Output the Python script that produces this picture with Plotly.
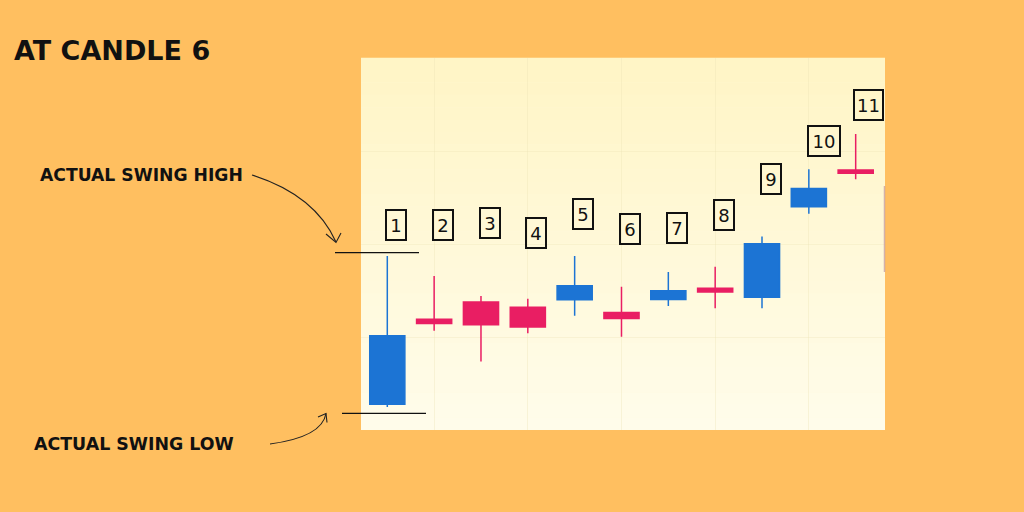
import plotly.graph_objects as go

# ---- data (price units) ----
candle_no = [1, 2, 3, 4, 5, 6, 7, 8, 9, 10, 11]
opens  = [6.9, 29.8, 34.4, 33.0, 35.0, 31.6, 35.1, 38.1, 35.7, 60.0, 69.9]
highs  = [46.8, 41.4, 36.0, 35.3, 46.8, 38.5, 42.5, 43.9, 52.0, 70.1, 79.6]
lows   = [6.2, 26.7, 18.4, 26.0, 30.7, 25.1, 33.3, 32.7, 32.7, 58.1, 67.4]
closes = [25.35, 28.6, 28.3, 27.7, 38.8, 30.0, 37.4, 37.1, 50.1, 64.9, 69.0]
label_text = ["1", "2", "3", "4", "5", "6", "7", "8", "9", "10", "11"]
label_y = [55.1, 55.1, 55.6, 53.0, 58.1, 54.0, 54.2, 57.8, 67.6, 77.7, 87.4]

W, H = 1024, 512
ORANGE = "#FFBF60"
BLUE = "#1C74D4"
PINK = "#E91E63"


def px(x):
    return x / W


def py(y):
    return 1 - y / H


fig = go.Figure()
fig.add_trace(go.Candlestick(
    x=candle_no, open=opens, high=highs, low=lows, close=closes,
    increasing=dict(line=dict(color=BLUE, width=1.5), fillcolor=BLUE),
    decreasing=dict(line=dict(color=PINK, width=1.5), fillcolor=PINK),
    whiskerwidth=0, hoverinfo="skip", showlegend=False,
))

shapes = []
# panel gradient background
top = (255, 245, 198)
bot = (255, 252, 234)
n = 30
for i in range(n):
    t = i / (n - 1)
    c = tuple(round(top[k] + (bot[k] - top[k]) * t) for k in range(3))
    shapes.append(dict(type="rect", xref="x domain", yref="y domain", layer="below",
                       x0=0, x1=1, y0=1 - (i + 1) / n, y1=1 - i / n + 0.001,
                       line=dict(width=0), fillcolor="rgb(%d,%d,%d)" % c))

# swing lines
shapes.append(dict(type="line", xref="paper", yref="paper", x0=px(335), x1=px(419),
                   y0=py(252.7), y1=py(252.7), line=dict(color="#111", width=1.2)))
shapes.append(dict(type="line", xref="paper", yref="paper", x0=px(342), x1=px(426),
                   y0=py(413.3), y1=py(413.3), line=dict(color="#111", width=1.2)))

# curved arrows
hi_path = "M %f,%f Q %f,%f %f,%f" % (px(252), py(175), px(315), py(195), px(336), py(242))
hi_head = "M %f,%f L %f,%f L %f,%f" % (px(326), py(234), px(336), py(242.5), px(341), py(233))
lo_path = "M %f,%f Q %f,%f %f,%f" % (px(270), py(444), px(322), py(437), px(326), py(413.5))
lo_head = "M %f,%f L %f,%f L %f,%f" % (px(318), py(417), px(326), py(413.5), px(327), py(422.5))
for p in (hi_path, hi_head, lo_path, lo_head):
    shapes.append(dict(type="path", xref="paper", yref="paper", path=p,
                       line=dict(color="#222", width=1.1)))

# thin mark at right panel edge
shapes.append(dict(type="line", xref="paper", yref="paper", x0=px(884.5), x1=px(884.5),
                   y0=py(186), y1=py(272), line=dict(color="rgba(200,160,160,0.8)", width=1.5)))

annotations = []
for i, (t, yv) in enumerate(zip(label_text, label_y)):
    wide = len(t) > 1
    annotations.append(dict(
        x=candle_no[i] - 0.05, y=yv, xref="x", yref="y", xanchor="left", yanchor="middle",
        text=t, showarrow=False, font=dict(family="DejaVu Sans", size=18, color="#111"),
        bordercolor="#111", borderwidth=2, borderpad=0,
        width=(27 if i == 10 else 30) if wide else 18, height=28, align="center"))

TITLE_FONT = "DejaVu Sans"
annotations.append(dict(x=px(12), y=py(50.5), xref="paper", yref="paper", xanchor="left",
                        yanchor="middle", text="AT CANDLE 6", showarrow=False,
                        font=dict(family=TITLE_FONT, size=27, color="#111", weight=700)))
annotations.append(dict(x=px(38), y=py(174.5), xref="paper", yref="paper", xanchor="left",
                        yanchor="middle", text="ACTUAL SWING HIGH", showarrow=False,
                        font=dict(family=TITLE_FONT, size=17.2, color="#111", weight=700)))
annotations.append(dict(x=px(32), y=py(444), xref="paper", yref="paper", xanchor="left",
                        yanchor="middle", text="ACTUAL SWING LOW", showarrow=False,
                        font=dict(family=TITLE_FONT, size=17.4, color="#111", weight=700)))

fig.update_layout(
    width=W, height=H, margin=dict(l=0, r=0, t=0, b=0),
    paper_bgcolor=ORANGE, plot_bgcolor="#FFF9DC",
    boxgap=0.25, boxgroupgap=0,
    shapes=shapes, annotations=annotations, showlegend=False,
    xaxis=dict(domain=[361 / W, 885 / W], range=[0.4385, 11.626], rangeslider=dict(visible=False),
               showticklabels=False, ticks="", zeroline=False, showgrid=True,
               tick0=0, dtick=2, gridcolor="rgba(235,225,180,0.35)", gridwidth=1),
    yaxis=dict(domain=[1 - 430 / H, 1 - 58 / H], range=[0, 100], showticklabels=False,
               ticks="", zeroline=False, showgrid=True, dtick=25,
               gridcolor="rgba(235,225,180,0.3)", gridwidth=1),
)

fig.write_html("out.html", config={"displayModeBar": False},
               post_script="document.body.style.margin='0';document.body.style.padding='0';"
                           "document.documentElement.style.overflow='hidden';")
